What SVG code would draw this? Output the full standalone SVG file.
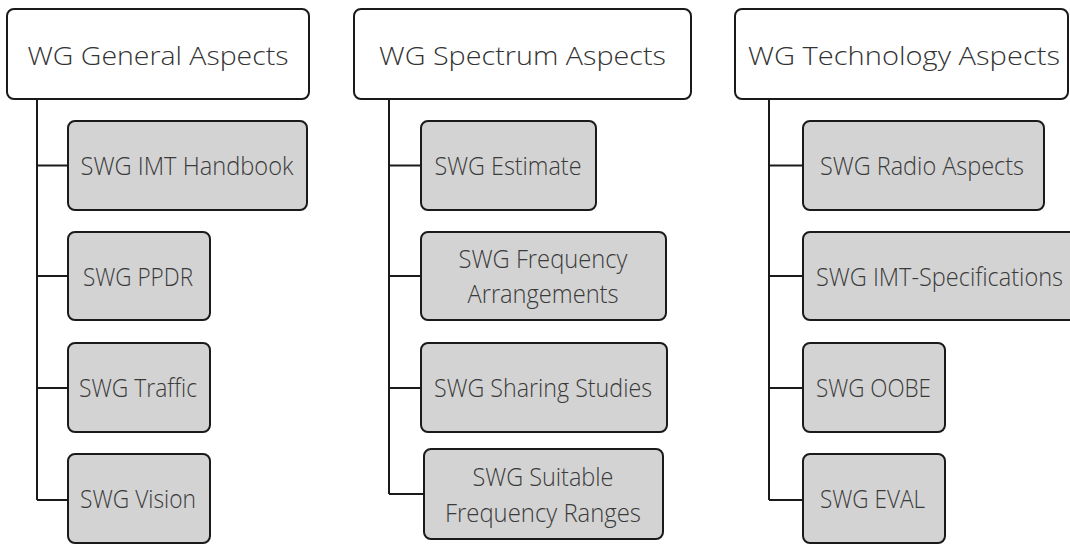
<svg xmlns="http://www.w3.org/2000/svg" width="1070" height="544" viewBox="0 0 1070 544">
<style>
.wg{fill:#fff;stroke:#1a1a1a;stroke-width:2}
.swg{fill:#d3d3d3;stroke:#1a1a1a;stroke-width:2}
.t{font-family:"Open Sans","Noto Sans",sans-serif;font-weight:300;font-size:25px;fill:#3a3a3a;text-anchor:middle}
.tt{font-size:26px;fill:#333}
.c{fill:none;stroke:#1a1a1a;stroke-width:2}
</style>
<rect width="1070" height="544" fill="#fff"/>
<g id="connectors">
<path class="c" d="M37 99V500M37 165.5H68M37 276H68M37 388H68M37 500H68"/>
<path class="c" d="M389 99V494M389 165.5H421M389 276H421M389 388H421M389 494H424"/>
<path class="c" d="M769 99V500M769 165.5H803M769 276H803M769 500H803M769 388H803"/>
</g>
<g id="wg-general"><rect class="wg" x="7" y="9" width="302" height="90" rx="7"/><text class="t tt" x="158" y="65" textLength="261" lengthAdjust="spacingAndGlyphs">WG General Aspects</text></g>
<g id="wg-spectrum"><rect class="wg" x="354" y="9" width="337" height="90" rx="7"/><text class="t tt" x="522.5" y="65" textLength="287" lengthAdjust="spacingAndGlyphs">WG Spectrum Aspects</text></g>
<g id="wg-technology"><rect class="wg" x="735" y="9" width="333" height="90" rx="7"/><text class="t tt" x="904" y="65" textLength="312" lengthAdjust="spacingAndGlyphs">WG Technology Aspects</text></g>

<g id="swg-imt-handbook"><rect class="swg" x="68" y="121" width="239" height="89" rx="7"/><text class="t" x="187" y="175" textLength="213" lengthAdjust="spacingAndGlyphs">SWG IMT Handbook</text></g>
<g id="swg-ppdr"><rect class="swg" x="68" y="232" width="142" height="88" rx="7"/><text class="t" x="138" y="286" textLength="110" lengthAdjust="spacingAndGlyphs">SWG PPDR</text></g>
<g id="swg-traffic"><rect class="swg" x="68" y="343" width="142" height="89" rx="7"/><text class="t" x="138" y="397" textLength="118" lengthAdjust="spacingAndGlyphs">SWG Traffic</text></g>
<g id="swg-vision"><rect class="swg" x="68" y="454" width="142" height="89" rx="7"/><text class="t" x="138" y="508" textLength="116" lengthAdjust="spacingAndGlyphs">SWG Vision</text></g>

<g id="swg-estimate"><rect class="swg" x="421" y="121" width="175" height="89" rx="7"/><text class="t" x="508" y="175" textLength="147" lengthAdjust="spacingAndGlyphs">SWG Estimate</text></g>
<g id="swg-freq-arr"><rect class="swg" x="421" y="232" width="245" height="88" rx="7"/><text class="t" x="543" y="268" textLength="169" lengthAdjust="spacingAndGlyphs">SWG Frequency</text><text class="t" x="543" y="303" textLength="151" lengthAdjust="spacingAndGlyphs">Arrangements</text></g>
<g id="swg-sharing"><rect class="swg" x="421" y="343" width="246" height="89" rx="7"/><text class="t" x="543" y="397" textLength="218" lengthAdjust="spacingAndGlyphs">SWG Sharing Studies</text></g>
<g id="swg-suitable"><rect class="swg" x="424" y="449" width="239" height="90" rx="7"/><text class="t" x="543" y="486" textLength="141" lengthAdjust="spacingAndGlyphs">SWG Suitable</text><text class="t" x="543" y="522" textLength="196" lengthAdjust="spacingAndGlyphs">Frequency Ranges</text></g>

<g id="swg-radio"><rect class="swg" x="803" y="121" width="241" height="89" rx="7"/><text class="t" x="922" y="175" textLength="204" lengthAdjust="spacingAndGlyphs">SWG Radio Aspects</text></g>
<g id="swg-imt-spec"><rect class="swg" x="803" y="232" width="275" height="88" rx="7"/><text class="t" x="939.5" y="286" textLength="247" lengthAdjust="spacingAndGlyphs">SWG IMT-Specifications</text></g>
<g id="swg-oobe"><rect class="swg" x="803" y="343" width="142" height="89" rx="7"/><text class="t" x="873.5" y="397" textLength="115" lengthAdjust="spacingAndGlyphs">SWG OOBE</text></g>
<g id="swg-eval"><rect class="swg" x="803" y="454" width="142" height="89" rx="7"/><text class="t" x="872.5" y="508" textLength="105" lengthAdjust="spacingAndGlyphs">SWG EVAL</text></g>
</svg>
